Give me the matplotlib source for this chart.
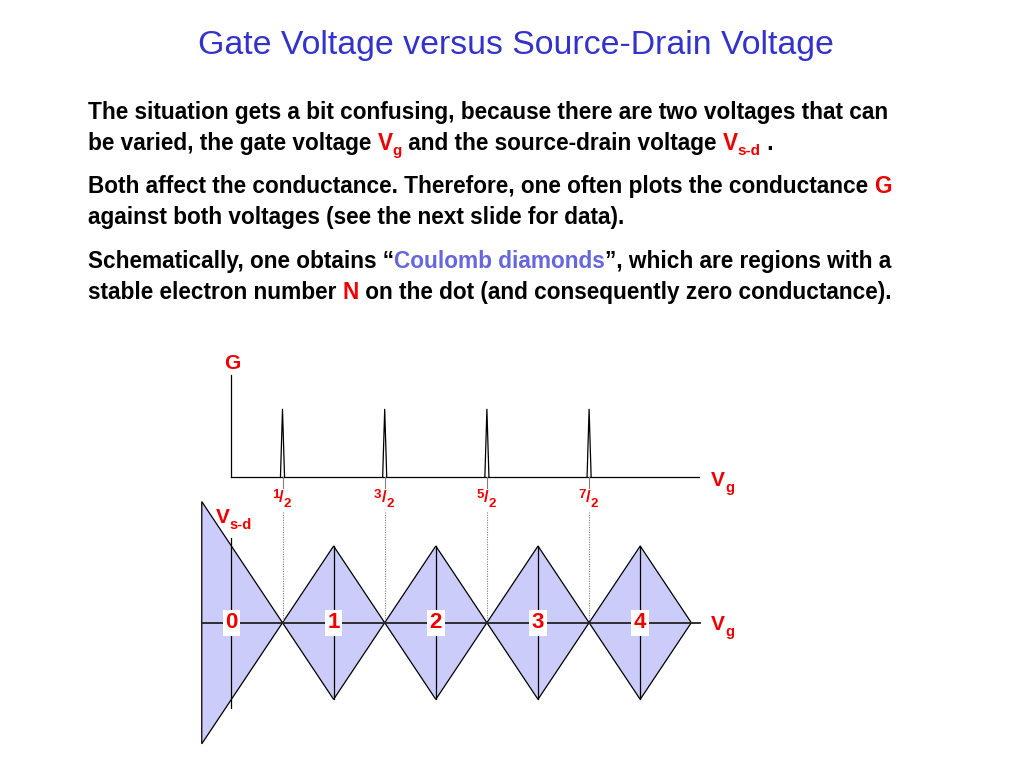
import matplotlib
matplotlib.use("Agg")
import matplotlib.pyplot as plt
from matplotlib.patches import Polygon
from matplotlib.transforms import IdentityTransform

# ---------------- data ----------------
title = "Gate Voltage versus Source-Drain Voltage"
electron_numbers = [0, 1, 2, 3, 4]          # N in each Coulomb diamond
peak_positions = [0.5, 1.5, 2.5, 3.5]       # conductance peaks (gate voltage)
peak_labels = [("1", "2"), ("3", "2"), ("5", "2"), ("7", "2")]
peak_height = 1.0
peak_halfwidth = 0.02
diamond_halfwidth = 0.5
diamond_slope = 1.5
vg_left = -0.29                              # left cut of the N=0 region
g_axis_top = 1.5
g_axis_right = 4.575
vg_axis_right = 4.585

RED = "#EE0000"
BLUE = "#3333CC"
LBLUE = "#6666DD"
FONT = "Liberation Sans"

W, H = 1024, 768
fig = plt.figure(figsize=(W / 100, H / 100), dpi=100)
renderer = fig.canvas.get_renderer()


def piece_width(s, size, weight):
    t1 = fig.text(0, 0, s + "|", fontsize=size, fontweight=weight, family=FONT,
                  transform=IdentityTransform())
    t2 = fig.text(0, 0, "|", fontsize=size, fontweight=weight, family=FONT,
                  transform=IdentityTransform())
    w = t1.get_window_extent(renderer).width - t2.get_window_extent(renderer).width
    t1.remove(); t2.remove()
    return w


def rich(x, y, pieces, weight="bold", align="left"):
    """pieces: (text, color, size, dy) ; x,y in image pixels (y down), y = baseline"""
    widths = [piece_width(s, sz, weight) for s, c, sz, dy in pieces]
    total = sum(widths)
    if align == "center":
        x = x - total / 2
    for (s, c, sz, dy), w in zip(pieces, widths):
        fig.text(x, H - (y + dy), s, fontsize=sz, fontweight=weight, family=FONT,
                 color=c, transform=IdentityTransform(), va="baseline", ha="left")
        x += w


# ---------------- title ----------------
rich(516, 54, [(title, BLUE, 24.4, 0)], weight="normal", align="center")

# ---------------- body text ----------------
S = 16.3
SS = 11.0
K = "black"
lines = [
    (119, [("The situation gets a bit confusing, because there are two voltages that can", K, S, 0)]),
    (150, [("be varied, the gate voltage ", K, S, 0), ("V", RED, S, 0), ("g", RED, SS, 5),
           (" and the source-drain voltage ", K, S, 0), ("V", RED, S, 0), ("s-d", RED, SS, 5),
           (" .", K, S, 0)]),
    (193, [("Both affect the conductance. Therefore, one often plots the conductance ", K, S, 0),
           ("G", RED, S, 0)]),
    (224, [("against both voltages (see the next slide for data).", K, S, 0)]),
    (268, [("Schematically, one obtains \u201c", K, S, 0), ("Coulomb diamonds", LBLUE, S, 0),
           ("\u201d, which are regions with a", K, S, 0)]),
    (299, [("stable electron number ", K, S, 0), ("N", RED, S, 0),
           (" on the dot (and consequently zero conductance).", K, S, 0)]),
]
for yb, pcs in lines:
    rich(88, yb, pcs)

# ---------------- axes geometry ----------------
px0, scale = 231.4, 102.2
xl = (-0.5, 5.0)
left = (px0 + xl[0] * scale) / W
width = (xl[1] - xl[0]) * scale / W

# upper: G vs Vg
ax1 = fig.add_axes([left, (H - 511.3) / H, width, 170 / H])
ax1.set_xlim(*xl)
ax1.set_ylim(-0.5, 2.0)
ax1.axis("off")
ax1.plot([0, 0], [0, g_axis_top], color="black", lw=0.9)
ax1.plot([0, g_axis_right], [0, 0], color="black", lw=0.9)
for p in peak_positions:
    ax1.plot([p - peak_halfwidth, p, p + peak_halfwidth], [0, peak_height, 0],
             color="black", lw=0.9)
    ax1.plot([p, p], [0, -0.15], color="gray", lw=0.8)

# lower: Coulomb diamonds
ax2 = fig.add_axes([left, 2.2 / H, width, 286.2 / H])
ax2.set_xlim(*xl)
ax2.set_ylim(-1.4, 1.4)
ax2.axis("off")

FILL = "#CCCCFA"
for n in electron_numbers:
    if n == 0:
        h = diamond_slope * (n + diamond_halfwidth - vg_left)
        verts = [(vg_left, h), (n + diamond_halfwidth, 0), (vg_left, -h)]
        vlen = 0.83
    else:
        h = diamond_slope * diamond_halfwidth
        verts = [(n - diamond_halfwidth, 0), (n, h), (n + diamond_halfwidth, 0), (n, -h)]
        vlen = h
    ax2.add_patch(Polygon(verts, closed=True, facecolor=FILL, edgecolor="black",
                          lw=0.9, zorder=1))
    ax2.plot([n, n], [-vlen, vlen], color="black", lw=0.9, zorder=2)
    ax2.text(n, 0, str(n), color=RED, fontsize=16, fontweight="bold", family=FONT,
             ha="center", va="center", zorder=4,
             bbox=dict(facecolor="white", edgecolor="none", pad=2.0))
ax2.plot([vg_left, vg_axis_right], [0, 0], color="#222222", lw=1.3, zorder=3)
for p in peak_positions:
    ax2.plot([p, p], [0, 1.08], color="gray", lw=0.8, ls=(0, (1, 1.2)), zorder=2)

# ---------------- axis / tick labels ----------------
for p, (a, b) in zip(peak_positions, peak_labels):
    xc = px0 + p * scale - 1
    rich(xc, 502, [(a, RED, 9.5, -4), ("/", RED, 12, 0), (b, RED, 9.5, 5)], align="center")

rich(224, 369, [("G", RED, 15, 0)])
rich(711, 486, [("V", RED, 15, 0), ("g", RED, 10.5, 6)])
rich(711, 630, [("V", RED, 15, 0), ("g", RED, 10.5, 6)])
rich(216, 523, [("V", RED, 15, 0), ("s-d", RED, 10.5, 6)])

fig.savefig("out.png", dpi=100)
